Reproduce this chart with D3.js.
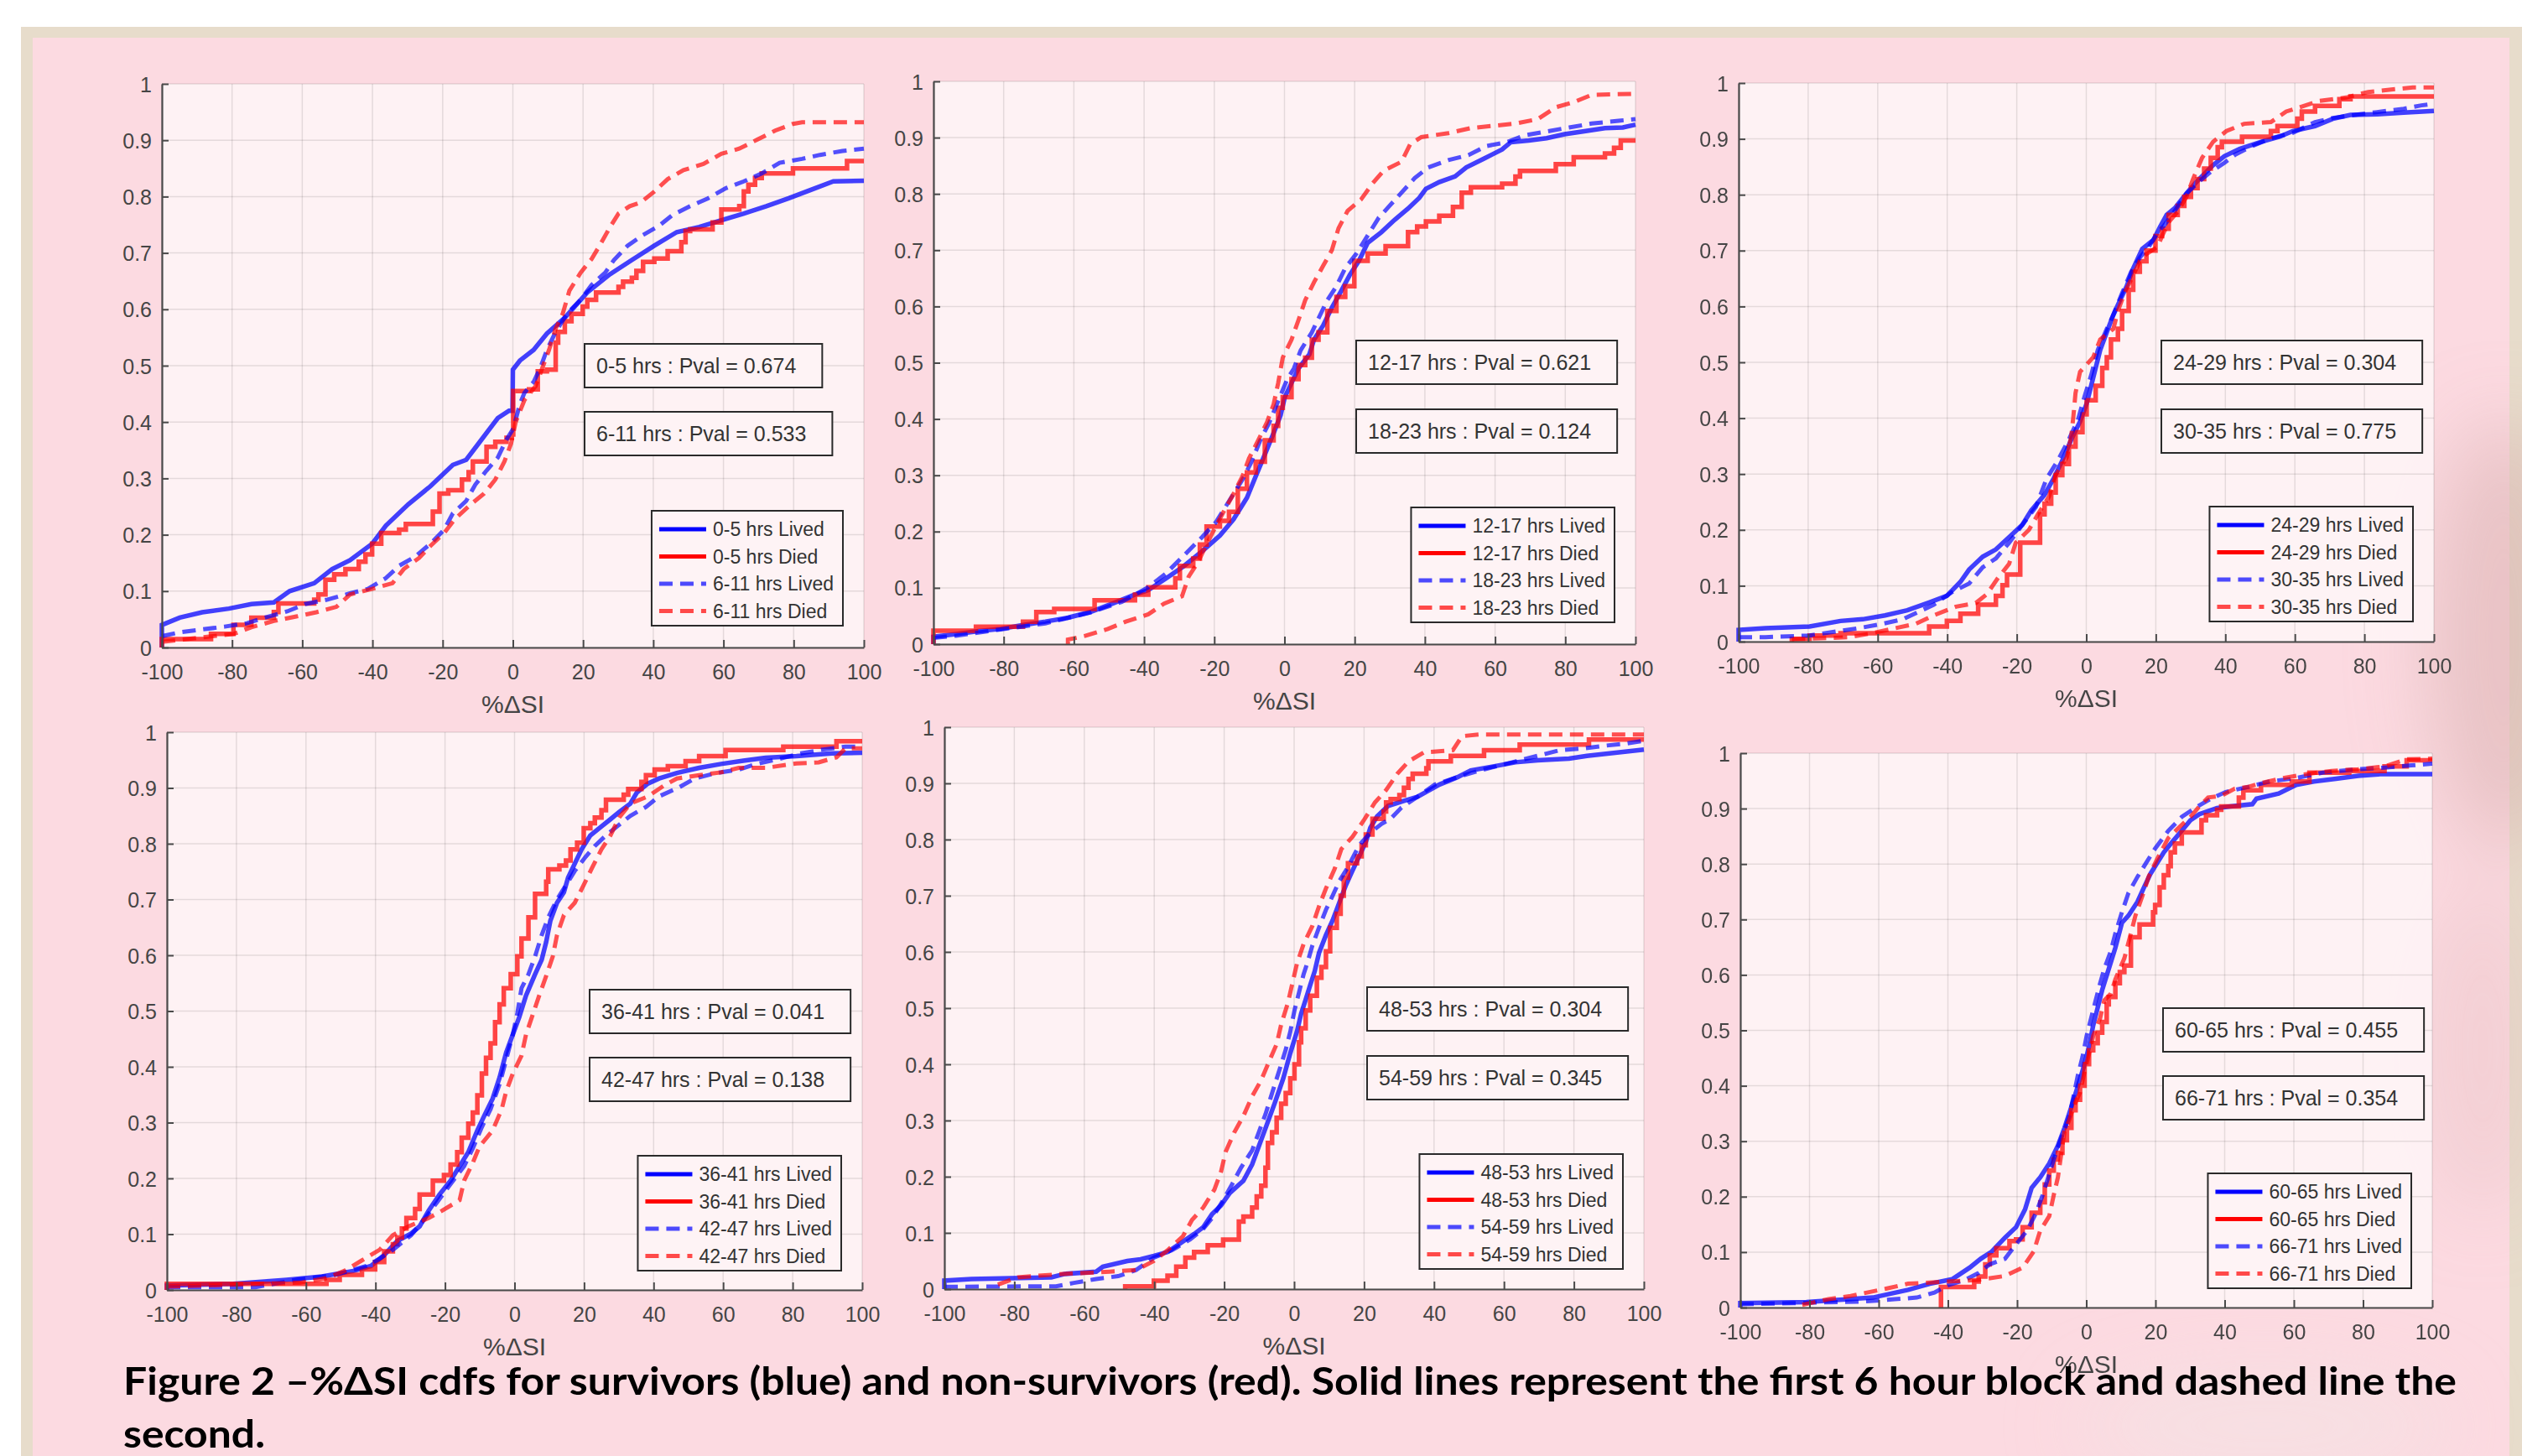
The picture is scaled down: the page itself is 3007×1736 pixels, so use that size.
<!DOCTYPE html>
<html><head><meta charset="utf-8">
<script src="https://cdn.jsdelivr.net/npm/d3@7"></script>
<style>body{margin:0;background:#fff}svg{display:block}</style>
</head><body>
<svg id="chart" width="3007" height="1736"></svg>
<script>
// ---------------- DATA ----------------
const blockA = ["0-5","12-17","24-29","36-41","48-53","60-65"];
const blockB = ["6-11","18-23","30-35","42-47","54-59","66-71"];
const pvalA = ["0.674","0.621","0.304","0.041","0.304","0.455"];
const pvalB = ["0.533","0.124","0.775","0.138","0.345","0.354"];
const xTicks = [-100,-80,-60,-40,-20,0,20,40,60,80,100];
const yTicks = [0,0.1,0.2,0.3,0.4,0.5,0.6,0.7,0.8,0.9,1];
const yTickLabels = ["0","0.1","0.2","0.3","0.4","0.5","0.6","0.7","0.8","0.9","1"];
const xAxisLabel = "%ΔSI";
const captionLine1 = "Figure 2 –%ΔSI cdfs for survivors (blue) and non-survivors (red). Solid lines represent the first 6 hour block and dashed line the";
const captionLine2 = "second.";

// Panel 1
const p1Lived1 = [[-100,0],[-100,0.04],[-94.9,0.053],[-88.5,0.0625],[-80.9,0.069],[-74.5,0.077],[-68.1,0.08],[-63.6,0.10],[-56.6,0.114],[-51.5,0.139],[-46.4,0.155],[-40.1,0.184],[-36.2,0.216],[-29.8,0.254],[-23.5,0.286],[-17.1,0.324],[-13.3,0.333],[-9.4,0.365],[-4.3,0.407],[-1.1,0.42],[-0.1,0.42],[0,0.493],[2,0.509],[5.9,0.528],[9.7,0.557],[14.8,0.585],[21.2,0.63],[27.6,0.662],[33.9,0.6875],[40.3,0.713],[46.7,0.737],[53.1,0.746],[59.4,0.758],[65.8,0.77],[72.2,0.783],[78.6,0.797],[84.9,0.812],[91.3,0.827],[100,0.828]];
const p1Died1 = [[-100,0],[-100,0.015],[-86,0.024],[-79.6,0.04],[-74.5,0.053],[-68.1,0.063],[-66.8,0.078],[-56.6,0.085],[-55.4,0.094],[-53.4,0.12],[-50.9,0.13],[-47.7,0.139],[-43.9,0.152],[-42,0.165],[-40.1,0.184],[-37.5,0.203],[-32.4,0.209],[-30.5,0.219],[-22.8,0.241],[-20.9,0.273],[-18.4,0.279],[-14.5,0.298],[-12.6,0.311],[-11.4,0.33],[-7.5,0.356],[-5,0.365],[-1.8,0.372],[-0.3,0.378],[0.1,0.455],[4.6,0.458],[7.1,0.49],[9.7,0.493],[12.2,0.541],[12.9,0.56],[14.8,0.579],[16.7,0.592],[19.9,0.605],[21.2,0.617],[23.7,0.63],[30.1,0.64],[31.4,0.649],[33.9,0.656],[35.2,0.668],[37.1,0.684],[40.3,0.69],[44.1,0.703],[48,0.719],[49.2,0.739],[50.5,0.742],[56.9,0.754],[59.4,0.777],[64.5,0.783],[65.8,0.809],[67.1,0.821],[69,0.833],[70.9,0.841],[79.8,0.85],[95.2,0.863],[100,0.863]];
const p1Lived2 = [[-100,0.02],[-94.9,0.027],[-88.5,0.032],[-82.1,0.037],[-75.8,0.043],[-70.7,0.053],[-64.3,0.064],[-59.2,0.077],[-52.8,0.085],[-46.4,0.096],[-41.3,0.104],[-36.2,0.123],[-32.4,0.145],[-27.9,0.161],[-23.5,0.184],[-19.6,0.209],[-17.1,0.238],[-13.3,0.26],[-10.7,0.289],[-7.5,0.314],[-4.3,0.337],[-1.8,0.369],[0.1,0.388],[2,0.432],[3.3,0.452],[5.9,0.471],[7.8,0.496],[9.7,0.528],[12.2,0.56],[15.4,0.592],[19.3,0.617],[22.4,0.643],[26.3,0.665],[28.8,0.6875],[32.7,0.713],[37.1,0.732],[41.6,0.748],[45.4,0.767],[50.5,0.783],[55.6,0.797],[60.7,0.815],[65.8,0.827],[70.9,0.841],[76,0.86],[82.4,0.867],[87.5,0.874],[93.9,0.881],[100,0.885]];
const p1Died2 = [[-100,0.01],[-79.6,0.024],[-74.5,0.036],[-68.1,0.047],[-61.7,0.055],[-56,0.0625],[-50.3,0.072],[-46.4,0.094],[-40.1,0.104],[-34.3,0.114],[-31.1,0.139],[-26.7,0.159],[-23.5,0.18],[-19.6,0.203],[-16.5,0.228],[-12,0.254],[-8.2,0.273],[-5,0.298],[-2.4,0.33],[-0.5,0.362],[0.8,0.4],[3.3,0.439],[6.5,0.464],[8.4,0.496],[10.3,0.528],[12.2,0.566],[14.2,0.592],[16.1,0.633],[19.3,0.665],[22.4,0.689],[25,0.716],[27.6,0.745],[30.1,0.77],[33.3,0.783],[36.5,0.79],[40.3,0.809],[44.1,0.831],[48.6,0.847],[54.3,0.858],[59.4,0.876],[64.5,0.885],[69.6,0.901],[74.7,0.917],[79.8,0.929],[82.4,0.932],[100,0.932]];

// Panel 2
const p2Lived1 = [[-100,0],[-100,0.013],[-93.6,0.018],[-87.2,0.023],[-80.9,0.027],[-74.5,0.034],[-68.1,0.04],[-61.7,0.047],[-55.4,0.057],[-49,0.072],[-42.6,0.088],[-38.8,0.096],[-33.7,0.117],[-28.6,0.139],[-23.5,0.165],[-18.4,0.193],[-14.5,0.222],[-10.7,0.26],[-8.2,0.298],[-5.6,0.337],[-3.1,0.375],[-1.1,0.407],[0.1,0.439],[2,0.464],[4,0.49],[7.1,0.515],[8.4,0.541],[11,0.566],[13.5,0.598],[16.1,0.627],[18.6,0.656],[21.2,0.681],[23.7,0.713],[27.6,0.732],[31.4,0.754],[35.2,0.774],[38.4,0.793],[40.3,0.809],[44.1,0.821],[48.6,0.831],[51.8,0.847],[56.9,0.863],[62,0.879],[64.5,0.892],[69.6,0.895],[74.7,0.899],[79.8,0.906],[86.2,0.912],[91.3,0.917],[96.4,0.918],[100,0.923]];
const p2Died1 = [[-100,0],[-100,0.024],[-87.9,0.031],[-74.5,0.04],[-70.7,0.057],[-65.6,0.0625],[-54.1,0.078],[-42.6,0.088],[-38.8,0.101],[-31.1,0.117],[-29.8,0.139],[-26,0.152],[-24.1,0.177],[-22.2,0.209],[-18.4,0.219],[-15.8,0.235],[-13.3,0.276],[-10.7,0.305],[-8.2,0.324],[-5.6,0.362],[-3.1,0.388],[-1.8,0.42],[-0.5,0.439],[2,0.471],[4,0.496],[5.9,0.509],[7.8,0.541],[9.7,0.554],[12.2,0.592],[14.8,0.617],[17.3,0.636],[19.9,0.681],[23.7,0.694],[28.8,0.707],[35.2,0.732],[37.8,0.742],[40.3,0.751],[44.1,0.761],[48,0.777],[50.5,0.802],[53.1,0.812],[62,0.818],[65.8,0.831],[67.1,0.841],[77.3,0.853],[82.4,0.865],[91.3,0.872],[93.9,0.882],[95.8,0.895],[100,0.895]];
const p2Lived2 = [[-100,0.011],[-93.6,0.015],[-80.9,0.026],[-68.1,0.037],[-55.4,0.056],[-46.4,0.075],[-38.8,0.101],[-33.7,0.126],[-28.6,0.158],[-23.5,0.19],[-19.6,0.216],[-15.8,0.254],[-12,0.292],[-9.4,0.324],[-6.9,0.362],[-4.3,0.394],[-1.8,0.432],[0.8,0.471],[2.7,0.49],[4.6,0.522],[7.8,0.554],[9.7,0.579],[12.2,0.611],[14.8,0.636],[17.3,0.668],[20.5,0.694],[23.7,0.726],[26.9,0.758],[30.1,0.78],[33.3,0.802],[37.1,0.828],[40.9,0.847],[46.7,0.86],[52.4,0.869],[57.5,0.885],[63.3,0.892],[68.4,0.904],[74.7,0.911],[81.1,0.918],[87.5,0.925],[95.2,0.93],[100,0.933]];
const p2Died2 = [[-61.7,0],[-61.7,0.008],[-56.6,0.015],[-50.3,0.027],[-45.2,0.04],[-38.8,0.053],[-34.3,0.072],[-29.2,0.085],[-27.3,0.12],[-24.7,0.145],[-22.2,0.177],[-19.6,0.209],[-17.1,0.238],[-14.5,0.267],[-12,0.298],[-10.1,0.33],[-7.5,0.362],[-5,0.394],[-3.1,0.426],[-1.8,0.464],[-0.5,0.509],[2,0.541],[4,0.576],[5.9,0.611],[8.4,0.643],[11,0.672],[13.5,0.7],[15.4,0.739],[18,0.77],[21.8,0.79],[25,0.818],[28.2,0.841],[33.3,0.857],[35.8,0.888],[39,0.901],[46.7,0.908],[53.1,0.917],[65.8,0.925],[72.2,0.933],[77.3,0.954],[82.4,0.963],[87.5,0.976],[100,0.978]];

// Panel 3
const p3Lived1 = [[-100,0],[-100,0.021],[-92.3,0.024],[-79.6,0.027],[-70.7,0.037],[-64.3,0.04],[-57.9,0.047],[-51.5,0.056],[-45.2,0.07],[-40.1,0.082],[-36.2,0.107],[-33.7,0.129],[-29.8,0.152],[-26,0.165],[-22.2,0.187],[-18.4,0.209],[-15.8,0.235],[-12,0.263],[-9.4,0.292],[-6.9,0.324],[-4.3,0.362],[-1.8,0.394],[0.1,0.426],[1.4,0.458],[2.7,0.49],[4,0.522],[5.9,0.554],[7.8,0.585],[9.7,0.611],[11.6,0.636],[13.5,0.668],[16.1,0.703],[19.3,0.719],[21.2,0.742],[23.1,0.764],[25.6,0.777],[28.8,0.802],[31.4,0.821],[33.9,0.837],[36.5,0.853],[39.7,0.869],[44.1,0.882],[50.5,0.895],[55.6,0.904],[59.4,0.914],[65.8,0.923],[70.9,0.936],[76,0.943],[83.7,0.944],[91.3,0.947],[100,0.95]];
const p3Died1 = [[-84.7,0],[-84.7,0.005],[-79.6,0.011],[-70.7,0.015],[-45.2,0.027],[-40.1,0.037],[-36.2,0.05],[-31.1,0.066],[-26,0.082],[-24.1,0.101],[-22.8,0.12],[-19,0.177],[-13.3,0.228],[-12,0.247],[-10.1,0.267],[-8.8,0.298],[-6.9,0.318],[-5,0.349],[-3.1,0.375],[-1.1,0.407],[0.1,0.432],[2.7,0.458],[4.6,0.49],[5.9,0.509],[7.1,0.541],[9.1,0.56],[10.3,0.592],[12.2,0.63],[13.5,0.662],[15.4,0.681],[17.3,0.7],[19.9,0.726],[21.8,0.739],[23.7,0.764],[26.3,0.78],[28.2,0.796],[30.1,0.812],[32,0.828],[33.9,0.847],[35.8,0.866],[37.8,0.885],[39,0.895],[44.8,0.904],[53.1,0.914],[55,0.923],[60.7,0.936],[62,0.949],[65.8,0.959],[72.8,0.971],[76,0.976],[100,0.976]];
const p3Lived2 = [[-100,0.008],[-92.3,0.008],[-79.6,0.011],[-65.6,0.024],[-59.2,0.031],[-52.8,0.04],[-43.9,0.066],[-38.8,0.088],[-33.7,0.104],[-29.8,0.133],[-26,0.149],[-22.2,0.177],[-18.4,0.209],[-14.5,0.241],[-11.4,0.292],[-8.2,0.324],[-5,0.362],[-2.4,0.397],[-0.5,0.439],[1.4,0.477],[3.3,0.522],[5.9,0.56],[7.8,0.585],[10.3,0.624],[12.9,0.662],[15.4,0.6875],[18,0.707],[20.5,0.732],[22.4,0.745],[25,0.767],[28.8,0.802],[32.7,0.825],[35.8,0.841],[39.7,0.857],[42.9,0.872],[48,0.888],[53.1,0.901],[59.4,0.911],[65.8,0.93],[70.9,0.9375],[78.6,0.944],[84.9,0.949],[91.3,0.954],[96.4,0.96],[100,0.963]];
const p3Died2 = [[-84.7,0.004],[-68.1,0.008],[-61.7,0.015],[-49,0.032],[-43.9,0.047],[-37.5,0.0625],[-31.8,0.069],[-28.6,0.085],[-25.4,0.114],[-22.2,0.139],[-20.3,0.177],[-16.5,0.2],[-13.9,0.228],[-10.7,0.26],[-8.8,0.298],[-5.6,0.33],[-4.3,0.369],[-3.7,0.404],[-3.1,0.445],[-1.8,0.483],[2,0.509],[4,0.541],[7.8,0.56],[9.1,0.592],[11,0.624],[13.5,0.656],[15.4,0.681],[17.3,0.694],[20.5,0.707],[21.8,0.726],[23.7,0.751],[26.3,0.77],[28.8,0.796],[30.7,0.828],[33.3,0.866],[36.5,0.895],[40.3,0.914],[45.4,0.927],[53.1,0.93],[57.5,0.949],[67.1,0.968],[74.7,0.974],[81.1,0.984],[88.8,0.989],[93.9,0.992],[100,0.992]];

// Panel 4
const p4Lived1 = [[-100,0],[-100,0.008],[-80.9,0.011],[-65.6,0.018],[-55.4,0.024],[-46.4,0.034],[-41.3,0.043],[-37.5,0.0625],[-33.7,0.088],[-29.8,0.101],[-27.3,0.114],[-24.7,0.142],[-21.6,0.171],[-18.4,0.196],[-15.8,0.222],[-13.3,0.247],[-10.7,0.286],[-8.8,0.311],[-6.3,0.343],[-4.3,0.381],[-2.4,0.426],[-0.5,0.458],[1.4,0.49],[3.3,0.528],[5.9,0.566],[7.8,0.592],[9.1,0.624],[10.3,0.662],[12.2,0.694],[14.2,0.713],[15.4,0.739],[17.3,0.764],[19.3,0.79],[21.8,0.815],[25,0.831],[27.6,0.844],[30.1,0.857],[33.3,0.872],[35.2,0.892],[38.4,0.908],[41.6,0.917],[46.7,0.927],[53.1,0.936],[59.4,0.943],[65.8,0.949],[72.2,0.954],[81.1,0.957],[91.3,0.962],[100,0.963]];
const p4Died1 = [[-100,0],[-100,0.011],[-54.1,0.018],[-50.3,0.027],[-43.9,0.037],[-40.1,0.05],[-37.5,0.069],[-35,0.082],[-33.7,0.094],[-32.4,0.11],[-31.1,0.129],[-28.6,0.145],[-27.3,0.171],[-23.5,0.196],[-20.3,0.206],[-18.4,0.225],[-16.5,0.247],[-15.2,0.273],[-13.3,0.298],[-12,0.318],[-10.7,0.349],[-9.4,0.388],[-8.2,0.416],[-6.9,0.442],[-5.6,0.48],[-4.3,0.512],[-3.1,0.541],[-1.1,0.566],[0.8,0.598],[2,0.63],[4,0.668],[5.9,0.71],[9.1,0.732],[9.7,0.754],[12.9,0.761],[14.8,0.77],[16.1,0.79],[18,0.802],[19.9,0.828],[21.8,0.837],[23.1,0.847],[25,0.86],[26.3,0.879],[31.4,0.888],[32.7,0.898],[36.5,0.911],[37.8,0.923],[40.3,0.933],[44.1,0.939],[49.2,0.948],[53.1,0.957],[60.7,0.968],[77.3,0.974],[92.6,0.984],[100,0.984]];
const p4Lived2 = [[-100,0.005],[-74.5,0.005],[-63,0.018],[-51.5,0.027],[-42.6,0.043],[-38.8,0.056],[-35,0.072],[-29.8,0.098],[-26,0.126],[-22.2,0.158],[-18.4,0.19],[-14.5,0.222],[-12,0.254],[-9.4,0.292],[-6.9,0.324],[-4.3,0.369],[-2.4,0.413],[-0.5,0.458],[0.8,0.496],[2,0.541],[4,0.566],[5.9,0.598],[7.8,0.636],[9.7,0.668],[12.2,0.7],[14.8,0.726],[17.3,0.751],[20.5,0.777],[23.1,0.796],[26.3,0.815],[29.5,0.831],[33.3,0.85],[37.8,0.866],[41.6,0.885],[47.3,0.901],[51.8,0.917],[58.2,0.927],[64.5,0.933],[69.6,0.943],[76,0.952],[82.4,0.962],[88.8,0.969],[95.2,0.974],[100,0.974]];
const p4Died2 = [[-100,0.006],[-61.7,0.013],[-54.1,0.021],[-49,0.034],[-43.9,0.053],[-38.8,0.072],[-35,0.098],[-30.5,0.114],[-24.7,0.129],[-20.9,0.142],[-15.8,0.161],[-14.5,0.196],[-12,0.228],[-10.1,0.257],[-6.3,0.286],[-3.7,0.324],[-2.4,0.356],[-0.5,0.388],[2,0.42],[3.3,0.458],[5.2,0.493],[7.1,0.528],[9.1,0.563],[11,0.598],[12.2,0.636],[14.2,0.672],[17.3,0.694],[19.9,0.726],[22.4,0.758],[25,0.79],[27.6,0.815],[30.1,0.847],[33.3,0.872],[38.4,0.885],[42.9,0.904],[46.7,0.917],[53.1,0.923],[59.4,0.928],[64.5,0.936],[72.2,0.936],[81.1,0.944],[87.5,0.946],[92.6,0.955],[95.2,0.971],[100,0.971]];

// Panel 5
const p5Lived1 = [[-100,0],[-100,0.015],[-92.3,0.018],[-69.4,0.021],[-65.6,0.027],[-56.6,0.031],[-54.7,0.04],[-47.7,0.05],[-43.9,0.053],[-40.1,0.059],[-36.2,0.066],[-32.4,0.082],[-28.6,0.098],[-26,0.11],[-23.5,0.133],[-20.9,0.149],[-18.4,0.171],[-14.5,0.193],[-12,0.222],[-10.1,0.254],[-8.2,0.286],[-5.6,0.33],[-3.1,0.375],[-1.1,0.42],[0.8,0.458],[2,0.49],[3.3,0.515],[4.6,0.541],[5.9,0.566],[7.1,0.598],[9.1,0.63],[11,0.656],[12.9,0.6875],[14.8,0.719],[16.7,0.745],[18.6,0.77],[20.5,0.796],[21.8,0.821],[23.7,0.841],[26.9,0.86],[31.4,0.869],[35.2,0.876],[37.8,0.885],[41.6,0.898],[46.7,0.911],[50.5,0.923],[56.9,0.93],[63.3,0.9375],[69.6,0.941],[78.6,0.944],[83.7,0.949],[91.3,0.954],[100,0.96]];
const p5Died1 = [[-48.3,0],[-48.3,0.005],[-40.1,0.015],[-36.2,0.024],[-33.7,0.04],[-31.1,0.056],[-28.6,0.066],[-24.7,0.078],[-20.3,0.088],[-15.8,0.12],[-14.5,0.129],[-12,0.145],[-10.7,0.165],[-9.4,0.184],[-8.2,0.216],[-7.5,0.26],[-6.3,0.279],[-5,0.305],[-3.7,0.33],[-2.4,0.349],[-1.1,0.375],[0.1,0.4],[1.4,0.439],[2,0.464],[3.3,0.496],[4.6,0.522],[6.5,0.554],[7.8,0.573],[9.1,0.601],[10.3,0.643],[12.2,0.668],[13.3,0.7],[14.2,0.732],[15.4,0.758],[18,0.77],[19.3,0.79],[20.5,0.809],[22.4,0.837],[25.6,0.85],[26.3,0.866],[27.6,0.872],[30.1,0.879],[31.4,0.892],[32.7,0.908],[33.9,0.917],[37.8,0.927],[38.4,0.939],[44.8,0.949],[54.3,0.959],[64.5,0.969],[84.3,0.978],[100,0.978]];
const p5Lived2 = [[-100,0.004],[-68.1,0.005],[-63,0.011],[-56.6,0.018],[-50.3,0.023],[-45.2,0.034],[-40.1,0.056],[-35,0.069],[-29.8,0.088],[-26,0.107],[-23.5,0.126],[-20.3,0.158],[-17.7,0.187],[-15.2,0.216],[-12,0.247],[-10.1,0.279],[-8.2,0.311],[-6.3,0.349],[-4.3,0.388],[-2.4,0.426],[-1.1,0.458],[0.1,0.496],[1.4,0.528],[2.7,0.56],[4,0.585],[5.2,0.611],[7.1,0.643],[9.1,0.675],[11,0.7],[12.9,0.726],[15.4,0.751],[18.6,0.79],[21.8,0.812],[25,0.828],[27.6,0.837],[30.7,0.857],[35.2,0.876],[40.3,0.898],[46.7,0.911],[53.1,0.923],[58.2,0.931],[63.3,0.939],[69.6,0.949],[76,0.959],[82.4,0.962],[88.8,0.967],[95.2,0.971],[100,0.976]];
const p5Died2 = [[-84.7,0.008],[-79,0.021],[-66.2,0.027],[-52.8,0.031],[-45.2,0.034],[-40.1,0.05],[-36.2,0.069],[-31.8,0.094],[-29.2,0.123],[-26,0.145],[-22.8,0.177],[-20.9,0.209],[-19.6,0.244],[-17.1,0.279],[-14.5,0.308],[-12,0.343],[-9.4,0.372],[-7.5,0.4],[-5,0.436],[-3.7,0.471],[-1.8,0.509],[-0.5,0.544],[0.8,0.579],[2.7,0.614],[5.2,0.646],[7.1,0.681],[9.1,0.713],[11.6,0.748],[13.5,0.783],[16.7,0.805],[19.9,0.834],[23.1,0.866],[26.3,0.888],[29.5,0.917],[32.7,0.939],[37.1,0.955],[45.4,0.959],[48,0.984],[53.1,0.987],[100,0.987]];

// Panel 6
const p6Lived1 = [[-100,0],[-100,0.008],[-80.9,0.01],[-61.7,0.018],[-51.5,0.032],[-45.2,0.043],[-38.8,0.051],[-33.7,0.072],[-30.5,0.088],[-27.3,0.101],[-23.5,0.126],[-20.3,0.145],[-17.7,0.177],[-15.8,0.216],[-13.3,0.235],[-10.7,0.26],[-8.2,0.292],[-6.3,0.324],[-4.3,0.362],[-2.4,0.4],[-0.5,0.439],[0.8,0.471],[2,0.509],[3.3,0.541],[4.6,0.573],[6.5,0.611],[8.4,0.649],[10.3,0.694],[12.2,0.707],[14.8,0.732],[16.7,0.758],[18.6,0.783],[20.5,0.802],[22.4,0.821],[25,0.841],[27.6,0.86],[30.1,0.879],[32.7,0.89],[37.8,0.901],[41.6,0.904],[48,0.908],[49.2,0.918],[55.6,0.927],[60.7,0.943],[65.8,0.949],[72.2,0.954],[78.6,0.959],[84.9,0.962],[100,0.962]];
const p6Died1 = [[-42,0],[-42,0.037],[-32.4,0.047],[-31.1,0.056],[-29.2,0.078],[-27.9,0.094],[-26,0.107],[-22.2,0.12],[-20.3,0.123],[-18.4,0.145],[-15.8,0.171],[-13.3,0.19],[-12,0.222],[-10.7,0.247],[-9.4,0.267],[-8.2,0.279],[-6.9,0.302],[-5.6,0.324],[-4.3,0.356],[-3.1,0.375],[-1.8,0.4],[-0.5,0.439],[0.8,0.464],[2,0.477],[3.3,0.496],[4.6,0.515],[5.9,0.547],[6.5,0.56],[8.4,0.585],[9.7,0.605],[11,0.617],[12.9,0.668],[15.4,0.691],[19.3,0.713],[19.9,0.726],[21.2,0.758],[22.4,0.78],[23.7,0.796],[24.4,0.821],[25.6,0.837],[27.6,0.857],[33.3,0.879],[34.6,0.888],[37.8,0.898],[39,0.904],[44.1,0.92],[45.4,0.933],[50.5,0.943],[59.4,0.949],[64.5,0.965],[76,0.968],[86.2,0.976],[92.6,0.987],[100,0.987]];
const p6Lived2 = [[-100,0.006],[-84.7,0.008],[-64.3,0.011],[-55.4,0.015],[-49,0.018],[-43.9,0.027],[-40.1,0.04],[-35,0.05],[-31.1,0.0625],[-27.9,0.078],[-23.5,0.088],[-20.3,0.114],[-17.1,0.139],[-14.5,0.171],[-12.6,0.203],[-10.7,0.241],[-8.8,0.279],[-6.9,0.311],[-5,0.343],[-3.7,0.381],[-2.4,0.42],[-1.1,0.452],[0.1,0.49],[1.4,0.522],[2.7,0.554],[4,0.585],[5.2,0.611],[7.1,0.643],[8.4,0.675],[10.3,0.713],[12.2,0.748],[14.8,0.777],[17.3,0.802],[19.9,0.828],[23.7,0.86],[27.6,0.885],[31.4,0.901],[35.8,0.917],[40.3,0.93],[46.7,0.939],[53.1,0.949],[60.7,0.955],[68.4,0.965],[78.6,0.971],[86.2,0.974],[93.9,0.978],[100,0.981]];
const p6Died2 = [[-82.1,0.005],[-74.5,0.015],[-68.1,0.021],[-57.9,0.034],[-51.5,0.043],[-31.1,0.05],[-23.5,0.057],[-18.4,0.072],[-15.2,0.101],[-13.3,0.139],[-10.7,0.165],[-9.4,0.203],[-8.2,0.235],[-6.3,0.318],[-5,0.337],[-3.7,0.362],[-1.8,0.388],[-0.5,0.426],[0.8,0.458],[2,0.49],[4,0.522],[5.2,0.554],[7.1,0.566],[8.4,0.592],[9.7,0.611],[11,0.63],[12.9,0.675],[14.2,0.707],[16.7,0.751],[18,0.777],[20.5,0.809],[23.7,0.847],[26.3,0.863],[30.1,0.885],[32.7,0.904],[35.2,0.92],[39,0.923],[42.9,0.936],[46.7,0.939],[50.5,0.946],[56.9,0.955],[63.3,0.962],[70.9,0.968],[78.6,0.971],[86.2,0.976],[92.6,0.989],[100,0.99]];

const seriesByPanel = [
  [p1Lived1,p1Died1,p1Lived2,p1Died2],
  [p2Lived1,p2Died1,p2Lived2,p2Died2],
  [p3Lived1,p3Died1,p3Lived2,p3Died2],
  [p4Lived1,p4Died1,p4Lived2,p4Died2],
  [p5Lived1,p5Died1,p5Lived2,p5Died2],
  [p6Lived1,p6Died1,p6Lived2,p6Died2]
];

// ---------------- LAYOUT ----------------
const frames = [
  {x0:193,x1:1030,y0:100,y1:772, b1:310,b2:391,lg:509},
  {x0:1113,x1:1950,y0:97,y1:768, b1:309,b2:391,lg:508},
  {x0:2073,x1:2902,y0:99,y1:765, b1:307,b2:389,lg:505},
  {x0:199,x1:1028,y0:873,y1:1538, b1:307,b2:388,lg:505},
  {x0:1126,x1:1960,y0:867,y1:1537, b1:310,b2:392,lg:509},
  {x0:2075,x1:2900,y0:898,y1:1559, b1:304,b2:385,lg:501}
];
const FONT = "'Liberation Sans', Arial, Helvetica, sans-serif";
const C_OUTER = "#fcdae1", C_PLOT = "#fef3f5", C_FRAME = "#e7dccb";
const C_AXIS = "#4a4a4a", C_TEXT = "#454545";
const BLUE = "#0000ff", RED = "#ff0000";
const styles = [
  {color:BLUE, dash:null, step:false, op:0.74, w:5.5},
  {color:RED, dash:null, step:true, op:0.72, w:5.5},
  {color:BLUE, dash:"16,9", step:false, op:0.68, w:5},
  {color:RED, dash:"16,9", step:false, op:0.68, w:5}
];

const svg = d3.select("#chart");
const defs = svg.append("defs");
const blur = defs.append("filter").attr("id","blur").attr("x","-50%").attr("y","-50%").attr("width","200%").attr("height","200%");
blur.append("feGaussianBlur").attr("stdDeviation",45);

// background
svg.append("rect").attr("width",3007).attr("height",1736).attr("fill","#ffffff");
svg.append("rect").attr("x",25).attr("y",32).attr("width",2982).attr("height",1704).attr("fill",C_FRAME);
svg.append("rect").attr("x",39).attr("y",45).attr("width",2953).attr("height",1691).attr("fill",C_OUTER);
const bgBlobs = svg.append("g").attr("filter","url(#blur)");
bgBlobs.append("ellipse").attr("cx",2985).attr("cy",760).attr("rx",90).attr("ry",260).attr("fill","#d9b0ae").attr("opacity",0.55);
bgBlobs.append("ellipse").attr("cx",2960).attr("cy",1250).attr("rx",70).attr("ry",200).attr("fill","#e2bcbc").attr("opacity",0.35);
bgBlobs.append("ellipse").attr("cx",2700).attr("cy",1700).attr("rx",220).attr("ry",60).attr("fill","#f3e4e4").attr("opacity",0.6);

frames.forEach((f, i) => {
  const w = f.x1 - f.x0, h = f.y1 - f.y0;
  const x = d3.scaleLinear().domain([-100,100]).range([0,w]);
  const y = d3.scaleLinear().domain([0,1]).range([h,0]);
  const g = svg.append("g").attr("transform",`translate(${f.x0},${f.y0})`);

  g.append("rect").attr("width",w).attr("height",h).attr("fill",C_PLOT).attr("opacity",0.93);

  // grid
  g.append("g").selectAll("line").data(xTicks).join("line")
    .attr("x1",d=>x(d)).attr("x2",d=>x(d)).attr("y1",0).attr("y2",h)
    .attr("stroke","#000").attr("stroke-opacity",0.1).attr("stroke-width",1.5);
  g.append("g").selectAll("line").data(yTicks).join("line")
    .attr("y1",d=>y(d)).attr("y2",d=>y(d)).attr("x1",0).attr("x2",w)
    .attr("stroke","#000").attr("stroke-opacity",0.1).attr("stroke-width",1.5);

  // curves
  const cid = "clip"+i;
  defs.append("clipPath").attr("id",cid).append("rect").attr("x",-3).attr("y",-3).attr("width",w+6).attr("height",h+6);
  const lines = g.append("g").attr("clip-path",`url(#${cid})`);
  seriesByPanel[i].forEach((data, k) => {
    const st = styles[k];
    const gen = d3.line().x(d=>x(d[0])).y(d=>y(d[1])).curve(st.step ? d3.curveStepAfter : d3.curveLinear);
    lines.append("path").attr("d",gen(data)).attr("fill","none")
      .attr("stroke",st.color).attr("stroke-opacity",st.op).attr("stroke-width",st.w)
      .attr("stroke-linejoin","miter").attr("stroke-dasharray",st.dash);
  });

  // axes
  const xAxis = d3.axisBottom(x).tickValues(xTicks).tickFormat(d=>String(d)).tickSizeInner(-9).tickSizeOuter(0).tickPadding(20);
  const yAxis = d3.axisLeft(y).tickValues(yTicks).tickFormat((d,j)=>yTickLabels[j]).tickSizeInner(-8).tickSizeOuter(0).tickPadding(12);
  const gx = g.append("g").attr("transform",`translate(0,${h})`).call(xAxis);
  const gy = g.append("g").call(yAxis);
  [gx,gy].forEach(a => {
    a.select(".domain").attr("stroke",C_AXIS).attr("stroke-width",2.2);
    a.selectAll(".tick line").attr("stroke",C_AXIS).attr("stroke-width",2);
    a.selectAll(".tick text").attr("fill",C_TEXT).attr("font-family",FONT).attr("font-size",25);
  });
  gy.selectAll(".tick text").attr("dy","0.36em");

  g.append("text").attr("x",w/2).attr("y",h+78).attr("text-anchor","middle")
    .attr("font-family",FONT).attr("font-size",30).attr("fill",C_TEXT).text(xAxisLabel);

  // p-value boxes
  [[f.b1, `${blockA[i]} hrs : Pval = ${pvalA[i]}`],[f.b2, `${blockB[i]} hrs : Pval = ${pvalB[i]}`]].forEach(([by, txt]) => {
    const bg = g.append("g").attr("transform",`translate(504,${by})`);
    const r = bg.append("rect").attr("height",52).attr("fill",C_PLOT).attr("stroke","#2a2a2a").attr("stroke-width",2);
    const t = bg.append("text").attr("x",14).attr("y",26).attr("dy","0.36em")
      .attr("font-family",FONT).attr("font-size",25).attr("fill","#333").text(txt);
    r.attr("width", t.node().getComputedTextLength() + 45);
  });

  // legend
  const labels = [`${blockA[i]} hrs Lived`,`${blockA[i]} hrs Died`,`${blockB[i]} hrs Lived`,`${blockB[i]} hrs Died`];
  const lg = g.append("g");
  const lr = lg.append("rect").attr("height",137).attr("fill",C_PLOT).attr("stroke","#2a2a2a").attr("stroke-width",2);
  let maxW = 0;
  labels.forEach((lab, k) => {
    const st = styles[k];
    const cy = 22 + k*32.5;
    lg.append("line").attr("x1",9).attr("x2",65).attr("y1",cy).attr("y2",cy)
      .attr("stroke",st.color).attr("stroke-width",5).attr("stroke-opacity",st.dash?0.7:1)
      .attr("stroke-dasharray",st.dash);
    const t = lg.append("text").attr("x",73).attr("y",cy).attr("dy","0.36em")
      .attr("font-family",FONT).attr("font-size",23).attr("fill","#333").text(lab);
    maxW = Math.max(maxW, t.node().getComputedTextLength());
  });
  const lw = 73 + maxW + 11;
  lr.attr("width", lw);
  lg.attr("transform",`translate(${w - 25 - lw},${f.lg})`);
});

// caption
const cap = svg.append("g").attr("font-family","Lato, 'Open Sans', sans-serif").attr("font-weight","bold").attr("fill","#000");
cap.append("text").attr("x",147).attr("y",1663).attr("font-size",46)
  .attr("textLength",2782).attr("lengthAdjust","spacingAndGlyphs").text(captionLine1);
cap.append("text").attr("x",147).attr("y",1726).attr("font-size",46)
  .attr("textLength",169).attr("lengthAdjust","spacingAndGlyphs").text(captionLine2);
</script>
</body></html>
